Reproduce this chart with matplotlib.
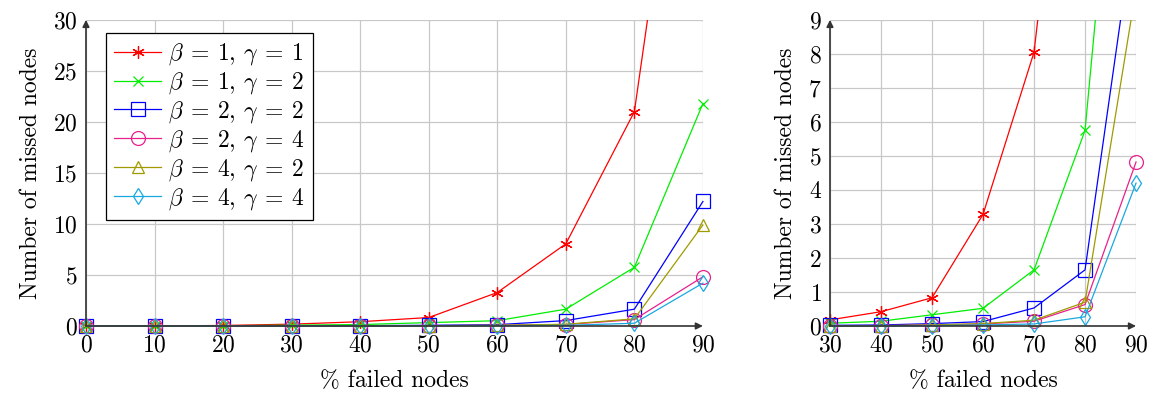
import matplotlib
matplotlib.use("Agg")
import matplotlib.pyplot as plt
from matplotlib.transforms import Bbox, TransformedBbox

plt.rcParams['font.family'] = 'serif'
plt.rcParams['font.serif'] = ['cmr10']
plt.rcParams['mathtext.fontset'] = 'cm'
plt.rcParams['axes.formatter.use_mathtext'] = True
plt.rcParams['font.size'] = 17

# % failed nodes
x_all = [0, 10, 20, 30, 40, 50, 60, 70, 80, 90]

# number of missed nodes per configuration
b1g1 = [0, 0.01, 0.05, 0.18, 0.42, 0.83, 3.28, 8.05, 21.0, 68.0]
b1g2 = [0, 0.0, 0.02, 0.08, 0.14, 0.33, 0.52, 1.65, 5.75, 21.8]
b2g2 = [0, 0.0, 0.0, 0.02, 0.03, 0.07, 0.13, 0.53, 1.65, 12.2]
b2g4 = [0, 0.0, 0.0, 0.0, 0.01, 0.03, 0.06, 0.14, 0.63, 4.82]
b4g2 = [0, 0.0, 0.0, 0.0, 0.01, 0.03, 0.07, 0.17, 0.70, 9.9]
b4g4 = [0, 0.0, 0.0, 0.0, 0.0, 0.01, 0.03, 0.06, 0.27, 4.2]

labels = [r'$\beta \:=\: 1$, $\gamma \:=\: 1$', r'$\beta \:=\: 1$, $\gamma \:=\: 2$',
          r'$\beta \:=\: 2$, $\gamma \:=\: 2$', r'$\beta \:=\: 2$, $\gamma \:=\: 4$',
          r'$\beta \:=\: 4$, $\gamma \:=\: 2$', r'$\beta \:=\: 4$, $\gamma \:=\: 4$']
series = [b1g1, b1g2, b2g2, b2g4, b4g2, b4g4]
colors = ['#ff0000', '#00ee00', '#0000ff', '#e8208c', '#a09a00', '#1aa8e0']
markers = [(6, 2, 0), 'x', 's', 'o', '^', 'd']
msizes = [9, 7, 10, 10, 8, 8]


def draw(ax, xmin, xmax, ymax, xticks, yticks):
    for ys, lab, c, m, ms in zip(series, labels, colors, markers, msizes):
        pts = [(x, y) for x, y in zip(x_all, ys) if x >= xmin]
        xs = [p[0] for p in pts]
        yv = [p[1] for p in pts]
        ln, = ax.plot(xs, yv, color=c, marker=m, markersize=ms, lw=0.9,
                      markerfacecolor='none', markeredgecolor=c,
                      markeredgewidth=0.9, label=lab)
        ln.set_clip_path(None)
        ln.set_clip_box(TransformedBbox(Bbox([[-0.05, -0.1], [1.05, 1.0]]),
                                        ax.transAxes))
    ax.set_xlim(xmin, xmax)
    ax.set_ylim(0, ymax)
    ax.set_xticks(xticks)
    ax.set_yticks(yticks)
    ax.grid(True, color='#c8c8c8', lw=0.9)
    ax.set_axisbelow(True)
    for s in ax.spines.values():
        s.set_visible(False)
    ax.tick_params(length=0, pad=6)
    ax.annotate('', xy=(1.0, 0), xytext=(0, 0), xycoords='axes fraction',
                arrowprops=dict(arrowstyle='-|>', color='#333333', lw=1.2,
                                shrinkA=0, shrinkB=0, mutation_scale=10))
    ax.annotate('', xy=(0, 1.0), xytext=(0, 0), xycoords='axes fraction',
                arrowprops=dict(arrowstyle='-|>', color='#333333', lw=1.2,
                                shrinkA=0, shrinkB=0, mutation_scale=10))
    ax.set_xlabel('% failed nodes', labelpad=10)
    ax.set_ylabel('Number of missed nodes', labelpad=8)


fig = plt.figure(figsize=(11.51, 3.94), dpi=100)
ax1 = fig.add_axes([0.0747, 0.1726, 0.536, 0.777])
ax2 = fig.add_axes([0.7211, 0.1726, 0.2659, 0.777])

draw(ax1, 0, 90, 30, range(0, 91, 10), range(0, 31, 5))
draw(ax2, 30, 90, 9, range(30, 91, 10), range(0, 10, 1))

leg = ax1.legend(loc='upper left', bbox_to_anchor=(0.013, 0.995),
                 fancybox=False, edgecolor='black', framealpha=1,
                 handlelength=2.0, labelspacing=0.12, borderpad=0.35,
                 handletextpad=0.3)
leg.get_frame().set_linewidth(0.9)

fig.savefig('out.png', dpi=100)
